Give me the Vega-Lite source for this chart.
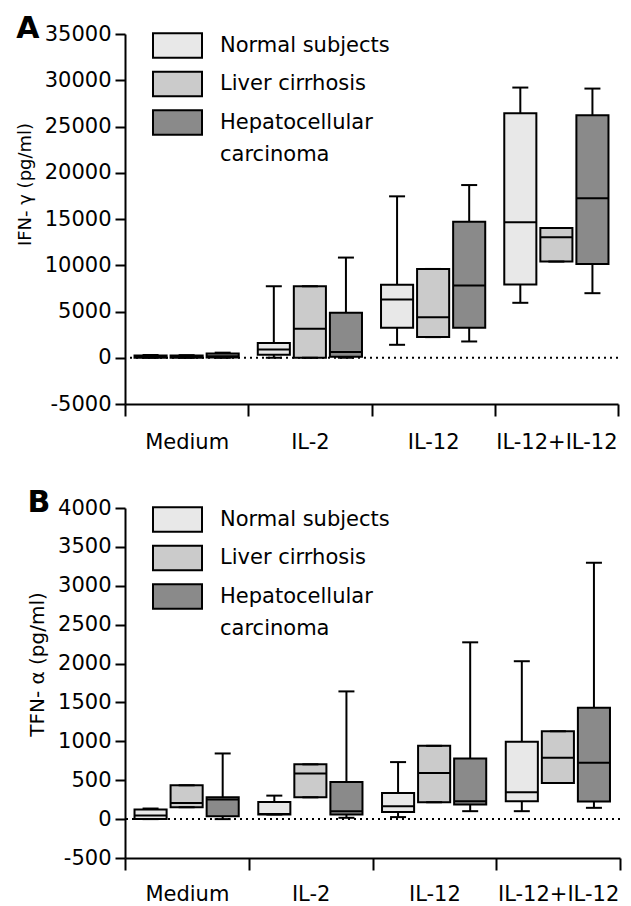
{
  "$schema": "https://vega.github.io/schema/vega-lite/v6.json",
  "padding": {"left": 16, "top": 14, "right": 8, "bottom": 0},
  "spacing": 36,
  "config": {
    "font": "DejaVu Sans",
    "view": {"stroke": null},
    "style": {"guide-label": {"lineHeight": 32}},
    "axis": {"domainColor": "black", "domainWidth": 2, "tickColor": "black", "tickWidth": 2, "labelColor": "black", "titleColor": "black", "labelFontSize": 21, "titleFontWeight": "normal", "grid": false, "labelOverlap": false},
    "title": {"fontSize": 30, "fontWeight": "bold", "anchor": "start", "frame": "bounds", "color": "black", "offset": -24, "baseline": "alphabetic"},
    "legend": {"title": null, "orient": "none", "legendX": 27, "legendY": -14, "symbolType": "M-1,-0.5H1V0.5H-1Z", "symbolSize": 2401, "symbolStrokeColor": "black", "symbolStrokeWidth": 2, "labelFontSize": 21, "labelColor": "black", "labelOffset": 17, "rowPadding": -3.5, "gridAlign": "none", "labelLimit": 300}
  },
  "datasets": {
    "ifn": [
      {"group": "Medium", "subject": "Normal subjects", "min": 0, "q1": 0, "median": 80, "q3": 250, "max": 300},
      {"group": "Medium", "subject": "Liver cirrhosis", "min": 0, "q1": 0, "median": 80, "q3": 230, "max": 280},
      {"group": "Medium", "subject": "Hepatocellular carcinoma", "min": 0, "q1": 20, "median": 150, "q3": 450, "max": 550},
      {"group": "IL-2", "subject": "Normal subjects", "min": 0, "q1": 325, "median": 900, "q3": 1590, "max": 7730},
      {"group": "IL-2", "subject": "Liver cirrhosis", "min": 0, "q1": 0, "median": 3130, "q3": 7730, "max": 7730},
      {"group": "IL-2", "subject": "Hepatocellular carcinoma", "min": 0, "q1": 100, "median": 615, "q3": 4860, "max": 10830},
      {"group": "IL-12", "subject": "Normal subjects", "min": 1400, "q1": 3240, "median": 6300, "q3": 7880, "max": 17450},
      {"group": "IL-12", "subject": "Liver cirrhosis", "min": 2230, "q1": 2230, "median": 4390, "q3": 9600, "max": 9600},
      {"group": "IL-12", "subject": "Hepatocellular carcinoma", "min": 1760, "q1": 3240, "median": 7810, "q3": 14710, "max": 18670},
      {"group": "IL-12+IL-12", "subject": "Normal subjects", "min": 5940, "q1": 7910, "median": 14640, "q3": 26440, "max": 29210},
      {"group": "IL-12+IL-12", "subject": "Liver cirrhosis", "min": 10400, "q1": 10400, "median": 13020, "q3": 14030, "max": 14030},
      {"group": "IL-12+IL-12", "subject": "Hepatocellular carcinoma", "min": 6980, "q1": 10140, "median": 17230, "q3": 26220, "max": 29100}
    ],
    "tnf": [
      {"group": "Medium", "subject": "Normal subjects", "min": 0, "q1": 0, "median": 46, "q3": 123, "max": 136},
      {"group": "Medium", "subject": "Liver cirrhosis", "min": 153, "q1": 153, "median": 208, "q3": 435, "max": 435},
      {"group": "Medium", "subject": "Hepatocellular carcinoma", "min": 0, "q1": 38, "median": 251, "q3": 281, "max": 844},
      {"group": "IL-2", "subject": "Normal subjects", "min": 59, "q1": 59, "median": 65, "q3": 221, "max": 302},
      {"group": "IL-2", "subject": "Liver cirrhosis", "min": 280, "q1": 280, "median": 588, "q3": 704, "max": 704},
      {"group": "IL-2", "subject": "Hepatocellular carcinoma", "min": 17, "q1": 59, "median": 102, "q3": 477, "max": 1642},
      {"group": "IL-12", "subject": "Normal subjects", "min": 26, "q1": 93, "median": 166, "q3": 336, "max": 733},
      {"group": "IL-12", "subject": "Liver cirrhosis", "min": 217, "q1": 217, "median": 592, "q3": 942, "max": 942},
      {"group": "IL-12", "subject": "Hepatocellular carcinoma", "min": 102, "q1": 187, "median": 230, "q3": 780, "max": 2273},
      {"group": "IL-12+IL-12", "subject": "Normal subjects", "min": 102, "q1": 230, "median": 345, "q3": 994, "max": 2030},
      {"group": "IL-12+IL-12", "subject": "Liver cirrhosis", "min": 464, "q1": 464, "median": 789, "q3": 1130, "max": 1130},
      {"group": "IL-12+IL-12", "subject": "Hepatocellular carcinoma", "min": 145, "q1": 226, "median": 725, "q3": 1433, "max": 3296}
    ]
  },
  "vconcat": [
    {
      "title": {"text": "A"},
      "width": 493,
      "height": 370,
      "data": {"name": "ifn"},
      "layer": [
        {
          "data": {"values": [{}]},
          "mark": {"type": "rule", "color": "black", "strokeWidth": 2, "strokeDash": [2, 4]},
          "encoding": {"y": {"datum": 0, "type": "quantitative"}}
        },
        {
          "encoding": {
            "x": {"field": "group", "type": "nominal", "sort": ["Medium", "IL-2", "IL-12", "IL-12+IL-12"], "scale": {"paddingInner": 0, "paddingOuter": 0}, "axis": {"title": null, "labelAngle": 0, "tickBand": "extent", "tickSize": 12, "labelPadding": 15, "labelDx": 5}},
            "xOffset": {"field": "subject", "type": "nominal", "sort": ["Normal subjects", "Liver cirrhosis", "Hepatocellular carcinoma"], "scale": {"paddingInner": 0.11, "paddingOuter": 0.264}}
          },
          "layer": [
            {"mark": {"type": "rule", "color": "black", "strokeWidth": 2},
             "encoding": {"y": {"field": "min", "type": "quantitative", "scale": {"domain": [-5000, 35000], "nice": false}, "axis": {"title": "IFN- γ (pg/ml)", "titleFontSize": 18, "titleY": 150, "values": [-5000, 0, 5000, 10000, 15000, 20000, 25000, 30000, 35000], "tickCount": 20, "labelExpr": "'' + datum.value", "labelOverlap": false, "tickSize": 10, "labelPadding": 4, "titlePadding": 10}}, "y2": {"field": "max"}}},
            {"mark": {"type": "bar", "stroke": "black", "strokeWidth": 2},
             "encoding": {"y": {"field": "q1", "type": "quantitative"}, "y2": {"field": "q3"},
               "fill": {"field": "subject", "type": "nominal", "scale": {"domain": ["Normal subjects", "Liver cirrhosis", "Hepatocellular carcinoma"], "range": ["#e8e8e8", "#cbcbcb", "#8a8a8a"]},
                 "legend": {"labelExpr": "datum.label == 'Hepatocellular carcinoma' ? ['Hepatocellular', 'carcinoma'] : datum.label"}}}},
            {"mark": {"type": "tick", "color": "black", "opacity": 1, "thickness": 2, "size": 32}, "encoding": {"y": {"field": "median", "type": "quantitative"}}},
            {"mark": {"type": "tick", "color": "black", "opacity": 1, "thickness": 2, "size": 16}, "encoding": {"y": {"field": "min", "type": "quantitative"}}},
            {"mark": {"type": "tick", "color": "black", "opacity": 1, "thickness": 2, "size": 16}, "encoding": {"y": {"field": "max", "type": "quantitative"}}}
          ]
        }
      ]
    },
    {
      "title": {"text": "B"},
      "width": 495,
      "height": 350,
      "data": {"name": "tnf"},
      "layer": [
        {
          "data": {"values": [{}]},
          "mark": {"type": "rule", "color": "black", "strokeWidth": 2, "strokeDash": [2, 4]},
          "encoding": {"y": {"datum": 0, "type": "quantitative"}}
        },
        {
          "encoding": {
            "x": {"field": "group", "type": "nominal", "sort": ["Medium", "IL-2", "IL-12", "IL-12+IL-12"], "scale": {"paddingInner": 0, "paddingOuter": 0}, "axis": {"title": null, "labelAngle": 0, "tickBand": "extent", "tickSize": 12, "labelPadding": 13, "labelDx": 5}},
            "xOffset": {"field": "subject", "type": "nominal", "sort": ["Normal subjects", "Liver cirrhosis", "Hepatocellular carcinoma"], "scale": {"paddingInner": 0.11, "paddingOuter": 0.264}}
          },
          "layer": [
            {"mark": {"type": "rule", "color": "black", "strokeWidth": 2},
             "encoding": {"y": {"field": "min", "type": "quantitative", "scale": {"domain": [-500, 4000], "nice": false}, "axis": {"title": "TFN- α  (pg/ml)", "titleFontSize": 20, "titleY": 156, "values": [-500, 0, 500, 1000, 1500, 2000, 2500, 3000, 3500, 4000], "tickCount": 20, "labelExpr": "'' + datum.value", "labelOverlap": false, "tickSize": 10, "labelPadding": 4, "titlePadding": 10}}, "y2": {"field": "max"}}},
            {"mark": {"type": "bar", "stroke": "black", "strokeWidth": 2},
             "encoding": {"y": {"field": "q1", "type": "quantitative"}, "y2": {"field": "q3"},
               "fill": {"field": "subject", "type": "nominal", "scale": {"domain": ["Normal subjects", "Liver cirrhosis", "Hepatocellular carcinoma"], "range": ["#e8e8e8", "#cbcbcb", "#8a8a8a"]},
                 "legend": {"labelExpr": "datum.label == 'Hepatocellular carcinoma' ? ['Hepatocellular', 'carcinoma'] : datum.label"}}}},
            {"mark": {"type": "tick", "color": "black", "opacity": 1, "thickness": 2, "size": 32}, "encoding": {"y": {"field": "median", "type": "quantitative"}}},
            {"mark": {"type": "tick", "color": "black", "opacity": 1, "thickness": 2, "size": 16}, "encoding": {"y": {"field": "min", "type": "quantitative"}}},
            {"mark": {"type": "tick", "color": "black", "opacity": 1, "thickness": 2, "size": 16}, "encoding": {"y": {"field": "max", "type": "quantitative"}}}
          ]
        }
      ]
    }
  ],
  "resolve": {"scale": {"fill": "independent"}, "legend": {"fill": "independent"}}
}
